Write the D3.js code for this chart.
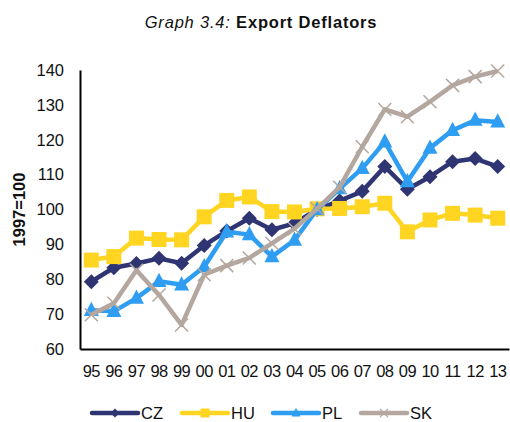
<!DOCTYPE html>
<html>
<head>
<meta charset="utf-8">
<script src="https://cdn.jsdelivr.net/npm/d3@7"></script>
<style>
  body { margin: 0; background: #fff; }
  text { font-family: "Liberation Sans", Arial, sans-serif; fill: #111; }
</style>
</head>
<body>
<div id="chart"></div>
<script>
// data
var years = ['95','96','97','98','99','00','01','02','03','04','05','06','07','08','09','10','11','12','13'];
var cz = [79.3, 83.3, 84.5, 86, 84.6, 89.7, 93.8, 97.5, 94.2, 96, 100, 102.5, 105.2, 112.3, 105.8, 109.4, 113.7, 114.6, 112.3];
var hu = [85.5, 86.5, 91.8, 91.4, 91.3, 97.9, 102.6, 103.6, 99.4, 99.3, 100.2, 100.3, 100.8, 101.8, 93.6, 97, 98.9, 98.4, 97.5];
var pl = [71.1, 70.8, 74.6, 79.4, 78.4, 83.6, 93.6, 92.8, 86.5, 91.2, 100, 106, 111.8, 119.4, 108, 117.6, 122.7, 125.6, 125.1];
var sk = [69.8, 73.1, 82.6, 75.5, 66.9, 81.3, 83.9, 86.1, 90.3, 94.5, 100.2, 106.4, 118, 128.7, 126.6, 130.9, 135.6, 138.1, 139.7];
var yTicks = [60, 70, 80, 90, 100, 110, 120, 130, 140];

var series = [
  {name: 'CZ', values: cz, color: '#2f3573', marker: 'diamond'},
  {name: 'HU', values: hu, color: '#ffd522', marker: 'square'},
  {name: 'PL', values: pl, color: '#2e9df2', marker: 'triangle'},
  {name: 'SK', values: sk, color: '#b3a79f', marker: 'x'}
];

var svgWidth = 510, svgHeight = 422;
var margin = {top: 70, left: 80, right: 1, bottom: 73};
var width = svgWidth - margin.left - margin.right;
var height = svgHeight - margin.top - margin.bottom;

var svg = d3.select('#chart').append('svg')
  .attr('width', svgWidth)
  .attr('height', svgHeight);

// title
var title = svg.append('text')
  .attr('x', 261)
  .attr('y', 28)
  .attr('text-anchor', 'middle')
  .style('font-size', '16.5px')
  .style('letter-spacing', '0.8px');
title.append('tspan').style('font-style', 'italic').text('Graph 3.4: ');
title.append('tspan').style('font-weight', 'bold').text('Export Deflators');

var chart = svg.append('g')
  .attr('transform', `translate(${margin.left}, ${margin.top})`);

var x = d3.scaleBand().domain(years).range([0, width]);
var y = d3.scaleLinear().domain([60, 140]).range([height, 0]);

// axes
var bottomAxis = d3.axisBottom(x).tickSize(0).tickPadding(16);
var leftAxis = d3.axisLeft(y).tickValues(yTicks).tickSize(0).tickPadding(16);

var gx = chart.append('g')
  .attr('transform', `translate(0,${height})`)
  .call(bottomAxis);
var gy = chart.append('g').call(leftAxis);

[gx, gy].forEach(function(g) {
  g.select('.domain').attr('stroke', '#000').attr('stroke-width', 2);
  g.selectAll('text')
    .style('font-family', '"Liberation Sans", Arial, sans-serif')
    .style('font-size', '16.5px')
    .attr('fill', '#111');
});
gx.selectAll('text').style('letter-spacing', '-0.6px');

// y axis title
svg.append('text')
  .attr('transform', `translate(24.5, ${margin.top + height / 2}) rotate(-90)`)
  .attr('text-anchor', 'middle')
  .style('font-size', '16.5px')
  .style('font-weight', 'bold')
  .text('1997=100');

// marker shapes
function markerPath(type, s) {
  if (type === 'diamond') return `M0,${-s}L${s},0L0,${s}L${-s},0Z`;
  if (type === 'square') return `M${-s},${-s}H${s}V${s}H${-s}Z`;
  if (type === 'triangle') return `M0,${-s * 1.15}L${s},${s * 0.75}L${-s},${s * 0.75}Z`;
  return `M${-s},${-s}L${s},${s}M${s},${-s}L${-s},${s}`;
}
var markerSize = {diamond: 7.5, square: 7.5, triangle: 7.5, x: 6.5};

var line = d3.line()
  .x(function(d, i) { return x(years[i]) + x.bandwidth() / 2; })
  .y(function(d) { return y(d); });

series.forEach(function(s) {
  var g = chart.append('g');
  g.append('path')
    .attr('d', line(s.values))
    .attr('fill', 'none')
    .attr('stroke', s.color)
    .attr('stroke-width', 4.5)
    .attr('stroke-linejoin', 'round');

  g.selectAll('path.marker')
    .data(s.values)
    .enter()
    .append('path')
    .attr('class', 'marker')
    .attr('transform', (d, i) => `translate(${x(years[i]) + x.bandwidth() / 2},${y(d)})`)
    .attr('d', markerPath(s.marker, markerSize[s.marker]))
    .attr('fill', s.marker === 'x' ? 'none' : s.color)
    .attr('stroke', s.color)
    .attr('stroke-width', s.marker === 'x' ? 1.5 : 0);
});

// legend
var legendX = [92, 182, 273, 361];
var legend = svg.append('g');
series.forEach(function(s, i) {
  var lg = legend.append('g').attr('transform', `translate(${legendX[i]}, 413)`);
  lg.append('line')
    .attr('x1', 0).attr('x2', 46)
    .attr('stroke', s.color)
    .attr('stroke-width', 4.5)
    .attr('stroke-linecap', 'round');
  lg.append('path')
    .attr('transform', 'translate(23,0)')
    .attr('d', markerPath(s.marker, s.marker === 'x' ? 4 : 4.5))
    .attr('fill', s.marker === 'x' ? 'none' : s.color)
    .attr('stroke', s.color)
    .attr('stroke-width', s.marker === 'x' ? 1.2 : 0);
  lg.append('text')
    .attr('x', 49)
    .attr('y', 6)
    .style('font-size', '16.5px')
    .text(s.name);
});
</script>
</body>
</html>
